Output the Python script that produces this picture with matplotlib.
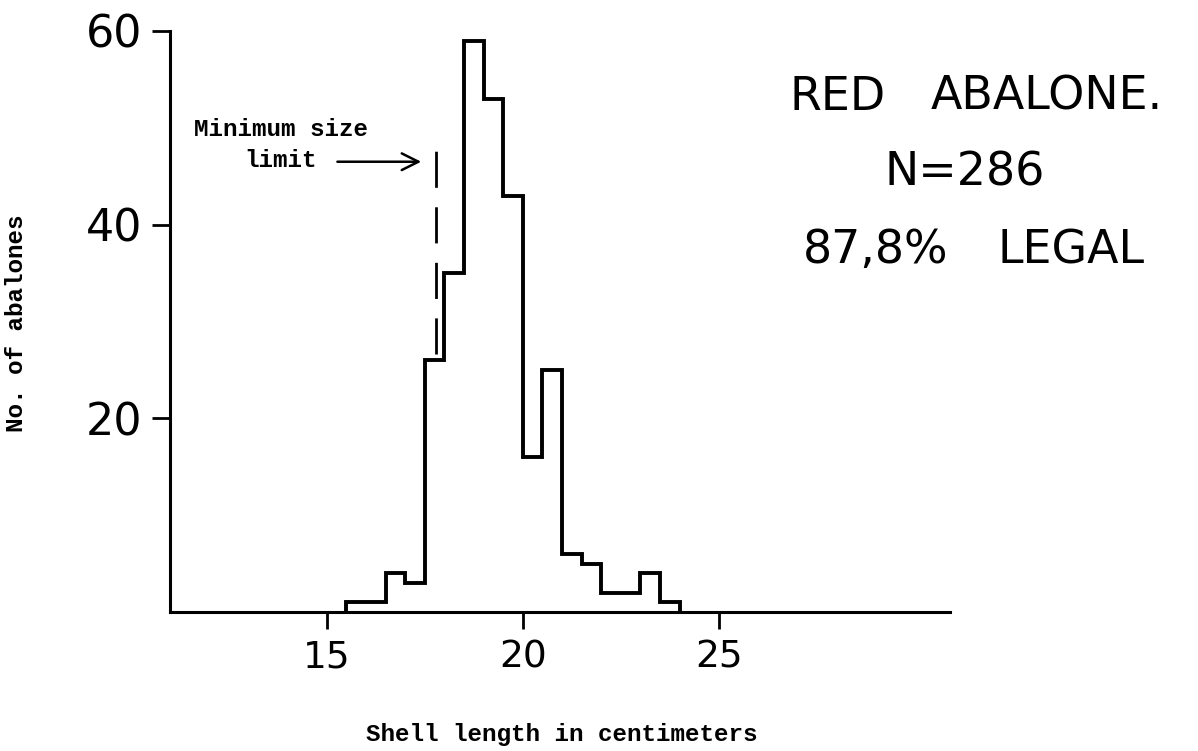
import matplotlib
matplotlib.use("Agg")
import matplotlib.pyplot as plt
import numpy as np

# ---- data ----
bin_edges = [15.5, 16.0, 16.5, 17.0, 17.5, 18.0, 18.5, 19.0, 19.5,
             20.0, 20.5, 21.0, 21.5, 22.0, 22.5, 23.0, 23.5, 24.0]
counts = [1, 1, 4, 3, 26, 35, 59, 53, 43, 16, 25, 6, 5, 2, 2, 4, 1]
x_ticks = [15, 20, 25]
y_ticks = [20, 40, 60]
min_size_limit = 17.78
title_lines = [["RED", "ABALONE."], ["N=286"], ["87,8%", "LEGAL"]]

W, H = 1198, 751
fig = plt.figure(figsize=(W / 100, H / 100), dpi=100)
fig.patch.set_facecolor("white")

# axes placement in pixel terms
left_px, right_px, bottom_px, top_px = 170, 950, 612, 31
ax = fig.add_axes([left_px / W, 1 - bottom_px / H,
                   (right_px - left_px) / W, (bottom_px - top_px) / H])
ax.set_xlim(11.0, 30.9)
ax.set_ylim(0, 60)

for s in ["top", "right"]:
    ax.spines[s].set_visible(False)
for s in ["left", "bottom"]:
    ax.spines[s].set_linewidth(2.2)
    ax.spines[s].set_color("black")

ax.stairs(counts, bin_edges, color="black", linewidth=2.8, baseline=0)

# minimum size limit dashed line
ax.plot([min_size_limit, min_size_limit], [26.6, 48.6], color="black",
        linewidth=2.0, linestyle=(0, (13, 7)), solid_capstyle="butt")

mono = ["Liberation Mono", "DejaVu Sans Mono"]
ax.text(13.83, 49.8, "Minimum size", family=mono, fontsize=17.5,
        fontweight="bold", ha="center", va="center", color="black")
ax.text(13.83, 46.6, "limit", family=mono, fontsize=17.5, fontweight="bold",
        ha="center", va="center", color="black")
ax.annotate("", xy=(17.48, 46.5), xytext=(15.2, 46.5),
            arrowprops=dict(arrowstyle="->", color="black", lw=1.8,
                            mutation_scale=30))

ax.set_xticks(x_ticks)
ax.set_xticklabels([str(t) for t in x_ticks], family="DejaVu Sans",
                   fontsize=27)
ax.set_yticks(y_ticks)
ax.set_yticklabels([str(t) for t in y_ticks], family="DejaVu Sans",
                   fontsize=32)
ax.tick_params(axis="x", direction="out", length=12, width=2.0, pad=8)
ax.tick_params(axis="y", direction="out", length=13, width=2.0, pad=7)

# axis labels
fig.text(562 / W, 1 - 735 / H, "Shell length in centimeters", family=mono,
         fontsize=17.5, fontweight="bold", ha="center", va="center")
fig.text(17 / W, 1 - 323 / H, "No. of abalones", family=mono, fontsize=17.5,
         fontweight="bold", ha="center", va="center", rotation=90)

# title block (each word placed where the hand lettering sits)
title_pos = [[(838, 110), (1047, 110)], [(965, 186)], [(876, 263), (1071, 263)]]
for words, poss in zip(title_lines, title_pos):
    for word, (px, py) in zip(words, poss):
        fig.text(px / W, 1 - py / H, word, family="DejaVu Sans", fontsize=33,
                 ha="center", va="baseline", color="black")

fig.savefig("out.png", dpi=100, facecolor="white")
